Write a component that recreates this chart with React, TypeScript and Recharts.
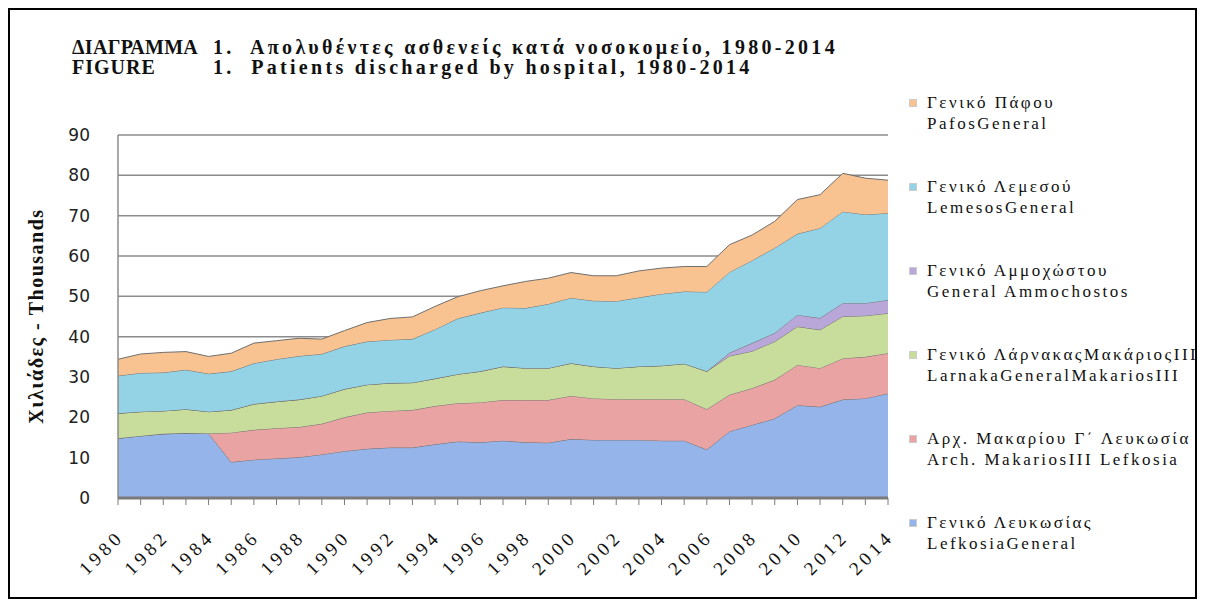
import { AreaChart, Area, XAxis, YAxis, CartesianGrid } from 'recharts'

const years = [
  '1980', '1981', '1982', '1983', '1984', '1985', '1986', '1987', '1988', '1989',
  '1990', '1991', '1992', '1993', '1994', '1995', '1996', '1997', '1998', '1999',
  '2000', '2001', '2002', '2003', '2004', '2005', '2006', '2007', '2008', '2009',
  '2010', '2011', '2012', '2013', '2014',
]

// thousands of discharged patients
const lefkosia = [
  14.8, 15.4, 15.9, 16.1, 16.0, 8.9, 9.5, 9.8, 10.1, 10.8,
  11.6, 12.2, 12.5, 12.5, 13.3, 14.0, 13.8, 14.2, 13.8, 13.7,
  14.6, 14.4, 14.4, 14.4, 14.2, 14.2, 12.0, 16.5, 18.1, 19.7,
  23.0, 22.6, 24.4, 24.7, 25.9,
]
const archMakarios = [
  0, 0, 0, 0, 0, 7.3, 7.4, 7.5, 7.5, 7.6,
  8.4, 9.0, 9.1, 9.3, 9.5, 9.5, 9.9, 10.1, 10.5, 10.6,
  10.7, 10.3, 10.1, 10.1, 10.3, 10.3, 10.0, 9.1, 9.1, 9.6,
  10.0, 9.6, 10.2, 10.3, 10.0,
]
const larnaka = [
  6.2, 6.0, 5.7, 5.9, 5.4, 5.6, 6.4, 6.6, 6.8, 6.9,
  7.0, 6.9, 6.9, 6.8, 6.8, 7.2, 7.7, 8.3, 7.9, 7.9,
  8.1, 7.9, 7.7, 8.1, 8.3, 8.8, 9.4, 9.6, 9.2, 9.5,
  9.5, 9.5, 10.4, 10.2, 9.9,
]
const ammochostos = [
  0, 0, 0, 0, 0, 0, 0, 0, 0, 0,
  0, 0, 0, 0, 0, 0, 0, 0, 0, 0,
  0, 0, 0, 0, 0, 0, 0, 0.8, 2.0, 2.1,
  2.9, 2.9, 3.3, 3.1, 3.3,
]
const lemesos = [
  9.3, 9.6, 9.5, 9.8, 9.4, 9.6, 10.1, 10.5, 10.8, 10.4,
  10.6, 10.7, 10.7, 10.8, 12.2, 13.8, 14.5, 14.6, 14.9, 15.9,
  16.2, 16.3, 16.6, 17.1, 17.8, 17.9, 19.7, 20.0, 20.5, 21.1,
  20.1, 22.3, 22.7, 22.0, 21.5,
]
const pafos = [
  4.1, 4.7, 5.0, 4.5, 4.3, 4.5, 5.0, 4.6, 4.4, 3.7,
  3.9, 4.7, 5.3, 5.5, 5.7, 5.4, 5.5, 5.4, 6.6, 6.4,
  6.3, 6.2, 6.3, 6.6, 6.4, 6.2, 6.3, 6.8, 6.3, 6.6,
  8.5, 8.3, 9.5, 9.0, 8.2,
]

const yTicks = [0, 10, 20, 30, 40, 50, 60, 70, 80, 90]

// bottom of the stack first
const series = [
  { key: 'lefkosia', values: lefkosia, color: '#95b4ea', greek: 'Γενικό Λευκωσίας', english: 'LefkosiaGeneral' },
  { key: 'arch', values: archMakarios, color: '#e9a3a2', greek: 'Αρχ. Μακαρίου Γ΄ Λευκωσία', english: 'Arch. MakariosIII Lefkosia' },
  { key: 'larnaka', values: larnaka, color: '#c8dc9c', greek: 'Γενικό ΛάρνακαςΜακάριοςIII', english: 'LarnakaGeneralMakariosIII' },
  { key: 'ammochostos', values: ammochostos, color: '#b9a7da', greek: 'Γενικό Αμμοχώστου', english: 'General Ammochostos' },
  { key: 'lemesos', values: lemesos, color: '#94d2e6', greek: 'Γενικό Λεμεσού', english: 'LemesosGeneral' },
  { key: 'pafos', values: pafos, color: '#f8c390', greek: 'Γενικό Πάφου', english: 'PafosGeneral' },
]

const data = years.map((year, i) => {
  const row: Record<string, number | string> = { year }
  for (const s of series) row[s.key] = s.values[i]
  return row
})

const serif = '"Liberation Serif", "Times New Roman", serif'

function YearTick({ x, y, payload }: any) {
  const yr = Number(payload.value)
  if (yr % 2) return null
  const ax = x + 7
  const ay = y + 31
  return (
    <text x={ax} y={ay} transform={`rotate(-45 ${ax} ${ay})`} textAnchor="end"
      fontFamily={serif} fontSize={19} letterSpacing={4} fill="#111">
      {payload.value}
    </text>
  )
}

export default function App() {
  const legendItems = [...series].reverse()
  return (
    <div style={{ position: 'relative', width: 1185, height: 587, border: '2px solid #000', background: '#fff' }}>
      {/* title */}
      <div style={{ position: 'absolute', left: 62, top: 27, fontFamily: serif, fontWeight: 'bold', fontSize: 20, lineHeight: '20px', color: '#111', whiteSpace: 'nowrap' }}>
        <div style={{ display: 'flex' }}>
          <span style={{ width: 141, letterSpacing: 0.3 }}>ΔΙΑΓΡΑΜΜΑ</span>
          <span style={{ letterSpacing: 3.3 }}>1.&nbsp; Απολυθέντες ασθενείς κατά νοσοκομείο, 1980-2014</span>
        </div>
        <div style={{ display: 'flex' }}>
          <span style={{ width: 141, letterSpacing: 1 }}>FIGURE</span>
          <span style={{ letterSpacing: 3.3 }}>1.&nbsp; Patients discharged by hospital, 1980-2014</span>
        </div>
      </div>

      {/* y axis title */}
      <div style={{ position: 'absolute', left: 26, top: 306, width: 0, height: 0 }}>
        <div style={{
          position: 'absolute', transform: 'translate(-50%, -50%) rotate(-90deg)', whiteSpace: 'nowrap',
          fontFamily: serif, fontWeight: 'bold', fontSize: 20, letterSpacing: 1.5, color: '#111',
        }}>
          Χιλιάδες - Thousands
        </div>
      </div>

      <AreaChart width={1185} height={587} data={data} margin={{ top: 125, right: 307, bottom: 19, left: 0 }}>
        <CartesianGrid vertical={false} stroke="#8c8c8c" strokeWidth={1.5} />
        <YAxis domain={[0, 90]} ticks={yTicks} width={108} tickLine={false} tickSize={0} tickMargin={28}
          axisLine={{ stroke: '#8c8c8c', strokeWidth: 1.5 }}
          tick={{ fontFamily: '"DejaVu Sans", sans-serif', fontSize: 17, fill: '#222' }} />
        <XAxis dataKey="year" interval={0} height={80} tickSize={7} tickMargin={2}
          axisLine={{ stroke: '#7a7a7a', strokeWidth: 3 }} tickLine={{ stroke: '#7a7a7a' }}
          tick={<YearTick />} />
        {series.map(s => (
          <Area key={s.key} type="linear" dataKey={s.key} stackId="1" fill={s.color} fillOpacity={1}
            stroke="#6f6f6f" strokeWidth={1} isAnimationActive={false} />
        ))}
      </AreaChart>

      {/* legend */}
      {legendItems.map((s, i) => (
        <div key={s.key} style={{ position: 'absolute', left: 899, top: 82 + i * 84, fontFamily: serif, fontSize: 17, lineHeight: '21px', letterSpacing: 2.5, color: '#111', whiteSpace: 'nowrap' }}>
          <span style={{ position: 'absolute', left: 0, top: 7, width: 8, height: 8, background: s.color, border: '1px solid #ccc', boxSizing: 'border-box' }} />
          <div style={{ marginLeft: 18 }}>{s.greek}</div>
          <div style={{ marginLeft: 18 }}>{s.english}</div>
        </div>
      ))}
    </div>
  )
}
